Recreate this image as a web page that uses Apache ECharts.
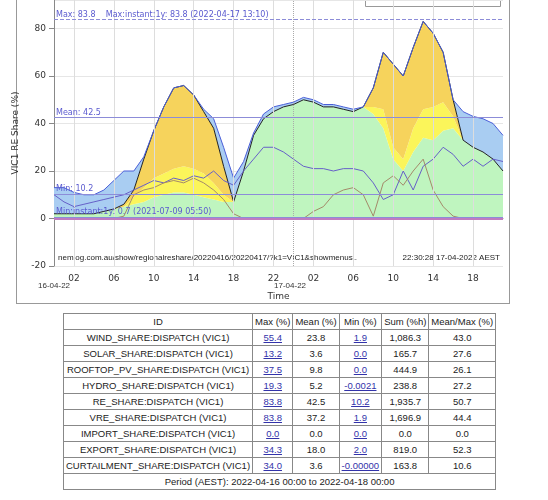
<!DOCTYPE html>
<html>
<head>
<meta charset="utf-8">
<script src="https://cdn.jsdelivr.net/npm/echarts@6/dist/echarts.min.js"></script>
<style>
  body { margin: 0; background: #fff; font-family: "DejaVu Sans", sans-serif; }
  #frame { position: absolute; left: 16px; top: -4px; width: 492px; height: 306px; border: 1px solid #999; }
  #chart { position: absolute; left: 0; top: 0; width: 548px; height: 310px; }
  table { position: absolute; left: 63px; top: 313px; width: 428px; border-collapse: collapse; font-size: 9.5px; color: #222; font-family: "Liberation Sans", sans-serif; }
  td, th { border: 1px solid #888; height: 15px; line-height: 14px; padding: 0 2px; text-align: center; font-weight: normal; white-space: nowrap; }
  a { color: #33a; text-decoration: underline; }
</style>
</head>
<body>
<div id="frame"></div>
<div id="chart"></div>
<table id="tbl"></table>
<script>
// hours from 2022-04-16 00:00
const hours = [0,1,2,3,4,5,6,7,8,9,10,11,12,13,14,15,16,17,18,19,20,21,22,23,24,25,26,27,28,29,30,31,32,33,34,35,36,37,38,39,40,41,42,43,44,45];
const wind    = [2,2,2,2,2,3,4,5,6,7,9,10,11,11,10,9,8,7,7,20,35,42,45,47,48,50,49,47,47,46,45,47,44,38,25,20,28,34,33,37,38,33,30,28,25,20];
const solar   = [0,0,0,0,0,0,0,0,3,6,8,9,10,11,11,10,7,3,0,0,0,0,0,0,0,0,0,0,0,0,0,0,3,8,5,5,10,12,14,12,5,0,0,0,0,0];
const rooftop = [0,0,0,0,0,0,0,1,3,12,20,28,34,34,31,26,23,12,0,0,0,0,0,0,0,0,0,0,0,0,0,0,8,24,35,35,34,37,31,21,7,0,0,0,0,0];
const hydro   = [11,11,9,8,8,9,12,14,8,1,0,0,0,0,0,1,4,8,10,4,1,2,2,1,1,1,1,1,1,1,1,0,0,0,0,0,0,0,0,0,0,12,13,14,15,15];
const vre     = [10,7,5,6,7,8,9,10,12,14,16,15,17,16,18,17,20,16,14,20,25,30,30,28,25,22,21,21,20,21,21,20,15,8,10,20,12,22,25,30,27,22,25,22,25,24];
const exportShare = [0,0,0,0,0,0,0,1,10,12,13,15,16,15,17,15,12,8,2,0,0,0,0,0,0,0,3,5,10,12,13,10,1,15,18,14,20,25,12,5,1,0,0,0,0,0];

const statLines = [
  { y: 83.8, type: 'dashed', label: 'Max: 83.8    Max:instant:1y: 83.8 (2022-04-17 13:10)' },
  { y: 42.5, type: 'solid', label: 'Mean: 42.5' },
  { y: 10.2, type: 'solid', label: 'Min: 10.2' },
  { y: 0.7, type: 'solid', label: 'Min:instant:1y: 0.7 (2021-07-09 05:50)' }
];
const gridHours = [2, 6, 10, 14, 18, 22, 26, 30, 34, 38, 42];

const tableIds = ['WIND_SHARE:DISPATCH (VIC1)','SOLAR_SHARE:DISPATCH (VIC1)','ROOFTOP_PV_SHARE:DISPATCH (VIC1)','HYDRO_SHARE:DISPATCH (VIC1)','RE_SHARE:DISPATCH (VIC1)','VRE_SHARE:DISPATCH (VIC1)','IMPORT_SHARE:DISPATCH (VIC1)','EXPORT_SHARE:DISPATCH (VIC1)','CURTAILMENT_SHARE:DISPATCH (VIC1)'];
const tableMax  = ['55.4','13.2','37.5','19.3','83.8','83.8','0.0','34.3','34.0'];
const tableMean = ['23.8','3.6','9.8','5.2','42.5','37.2','0.0','18.0','3.6'];
const tableMin  = ['1.9','0.0','0.0','-0.0021','10.2','1.9','0.0','2.0','-0.00000'];
const tableSum  = ['1,086.3','165.7','444.9','238.8','1,935.7','1,696.9','0.0','819.0','163.8'];
const tableMM   = ['43.0','27.6','26.1','27.2','50.7','44.4','0.0','52.3','10.6'];

let html = '<tr><th>ID</th><th>Max (%)</th><th>Mean (%)</th><th>Min (%)</th><th>Sum (%h)</th><th>Mean/Max (%)</th></tr>';
tableIds.forEach((id, i) => {
  html += '<tr><td>' + id + '</td><td><a>' + tableMax[i] + '</a></td><td>' + tableMean[i] + '</td><td><a>' + tableMin[i] + '</a></td><td>' + tableSum[i] + '</td><td>' + tableMM[i] + '</td></tr>';
});
html += '<tr><td colspan="6">Period (AEST): 2022-04-16 00:00 to 2022-04-18 00:00</td></tr>';
document.getElementById('tbl').innerHTML = html;

const area = (name, arr, color, line) => ({
  name, type: 'line', stack: 're', data: arr, symbol: 'none',
  lineStyle: line || { width: 0 }, areaStyle: { color: color, opacity: 1 }
});
const txt = '#5a5acf';

const chart = echarts.init(document.getElementById('chart'));
chart.setOption({
  animation: false,
  textStyle: { fontFamily: 'DejaVu Sans' },
  grid: { left: 54, right: 45, top: 0, bottom: 44 },
  xAxis: {
    type: 'category', data: hours, boundaryGap: false,
    name: 'Time', nameLocation: 'middle', nameGap: 26, nameTextStyle: { fontSize: 9, color: '#333' },
    axisLine: { lineStyle: { color: '#888' } },
    axisTick: { show: false },
    splitLine: { show: false },
    axisLabel: { fontSize: 9, color: '#333', interval: 0,
      formatter: v => (v % 4 === 2) ? String(v % 24).padStart(2, '0') : '' }
  },
  yAxis: {
    type: 'value', min: -20, max: 92, interval: 20,
    name: 'VIC1 RE Share (%)', nameLocation: 'middle', nameGap: 28, nameTextStyle: { fontSize: 9, color: '#333' },
    axisLine: { show: true, lineStyle: { color: '#888' } },
    axisTick: { show: true },
    axisLabel: { fontSize: 9, color: '#333', showMaxLabel: false },
    splitLine: { lineStyle: { color: '#e6e6e6' } }
  },
  series: [
    area('Wind', wind, '#bff5bf'),
    area('Solar', solar, '#fbf55a'),
    area('Rooftop PV', rooftop, '#f6d35c', { width: 1, color: '#222' }),
    area('Hydro', hydro, '#a9cdf2', { width: 1, color: '#4a5ed8' }),
    { name: 'VRE', type: 'line', data: vre, symbol: 'none', lineStyle: { width: 1, color: '#6660c8' } },
    { name: 'Export', type: 'line', data: exportShare, symbol: 'none', lineStyle: { width: 1, color: '#a48a6a' },
      markLine: {
        silent: true, symbol: 'none', label: { show: false },
        lineStyle: { color: '#ddd', type: 'solid', width: 1 },
        data: gridHours.map(h => ({ xAxis: h })).concat([{ xAxis: 24, lineStyle: { color: '#aaa', type: 'dotted' } }])
      }
    },
    { name: 'Stats', type: 'line', data: [], markLine: {
        silent: true, symbol: 'none',
        data: statLines.map(s => ({ yAxis: s.y, lineStyle: { color: '#8c8cd8', type: s.type, width: 1 },
          label: { show: true, position: 'insideStartTop', formatter: s.label, color: txt, fontSize: 8, distance: [2, 1] } }))
          .concat([{ yAxis: 0, lineStyle: { color: '#c07cc0', type: 'solid', width: 2 }, label: { show: false } }])
      }
    }
  ],
  graphic: [
    { type: 'text', left: 58, top: 254, style: { text: 'nemlog.com.au/show/regionalreshare/20220416/20220417/?k1=VIC1&showmenus..', fontSize: 8, fill: '#222' } },
    { type: 'text', right: 48, top: 254, style: { text: '22:30:28 17-04-2022 AEST', fontSize: 8, fill: '#222' } },
    { type: 'text', left: 38, top: 282, style: { text: '16-04-22', fontSize: 8, fill: '#333' } },
    { type: 'text', left: 274, top: 282, style: { text: '17-04-22', fontSize: 8, fill: '#333' } },
    { type: 'rect', left: 365, top: -2, shape: { width: 135, height: 8 }, style: { fill: '#fff', stroke: '#999' } }
  ]
});
</script>
</body>
</html>
